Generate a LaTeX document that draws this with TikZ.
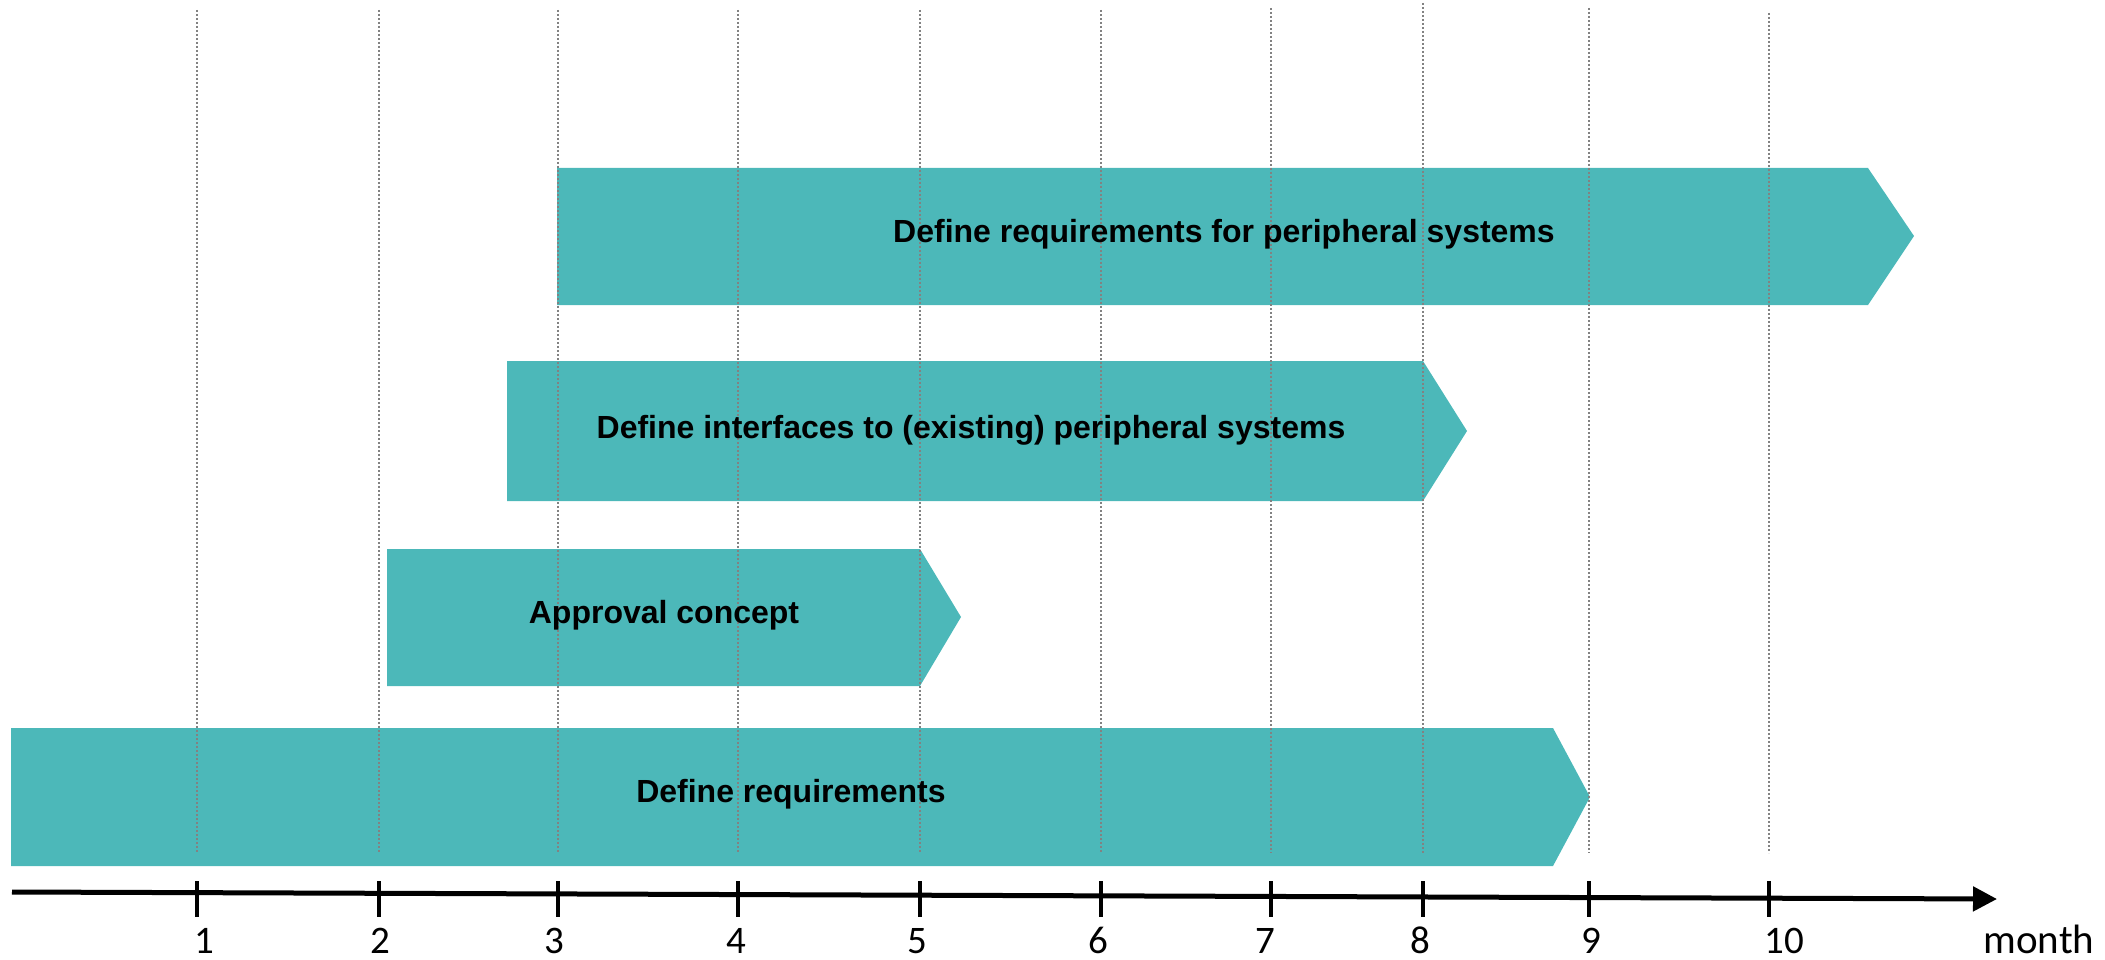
\documentclass[tikz,border=0pt]{standalone}
\usepackage{fontspec}
\setmainfont{Liberation Sans}
\newfontfamily\calib{Carlito}
\usetikzlibrary{arrows.meta}
\definecolor{barteal}{RGB}{76,184,185}
\definecolor{gridgray}{RGB}{130,130,130}
\tikzset{
  barfill/.style={fill=barteal, draw=none},
  bartext/.style={font=\fontsize{32}{36}\selectfont\bfseries, text=black, inner sep=0pt},
  grid line/.style={draw=gridgray, line width=2pt, dash pattern=on 2pt off 2pt},
  tickmark/.style={draw=black, line width=3.5pt},
  ticklabel/.style={font=\calib\fontsize{39}{42}\selectfont, inner sep=0pt, anchor=base},
}
\begin{document}
\begin{tikzpicture}[x=1pt,y=-1pt]
\useasboundingbox (0,0) rectangle (2105,960);
% bars
\fill[barfill] (557,168) -- (1868,168) -- (1914,236) -- (1868,305) -- (557,305) -- cycle;
\fill[barfill] (507,361) -- (1423,361) -- (1467,431) -- (1423,501) -- (507,501) -- cycle;
\fill[barfill] (387,549) -- (920,549) -- (961,617) -- (920,686) -- (387,686) -- cycle;
\fill[barfill] (11,728) -- (1553,728) -- (1590,797) -- (1553,866) -- (11,866) -- cycle;
% grid lines
\foreach \x/\t in {197/10,379/10,558/10,738/10,920/10,1101/10,1271/8,1423/3,1589/8,1769/13}{
  \draw[grid line] (\x,\t) -- (\x,853);
}
% bar labels
\node[bartext] (b1) at (1224,234) {Define requirements for peripheral systems};
\node[bartext] (b2) at (971,430) {Define interfaces to (existing) peripheral systems};
\node[bartext] (b3) at (664,615) {Approval concept};
\node[bartext] (b4) at (791,794) {Define requirements};
% axis
\coordinate (a0) at (12,892);
\coordinate (a1) at (1997,899);
\draw[line width=5pt, -{Triangle[length=24pt,width=24pt]}] (a0) -- (a1);
\foreach \x/\lx/\l in {197/204/1,379/380/2,558/554/3,738/736/4,920/917/5,1101/1098/6,1271/1265/7,1423/1420/8,1589/1591/9,1769/1784/10}{
  \draw[tickmark] (\x,881) -- (\x,917);
  \node[ticklabel] (t\l) at (\lx,953) {\l};
}
\node[ticklabel, font=\calib\fontsize{41}{44}\selectfont] (month) at (2039,953) {month};
\end{tikzpicture}
\end{document}
